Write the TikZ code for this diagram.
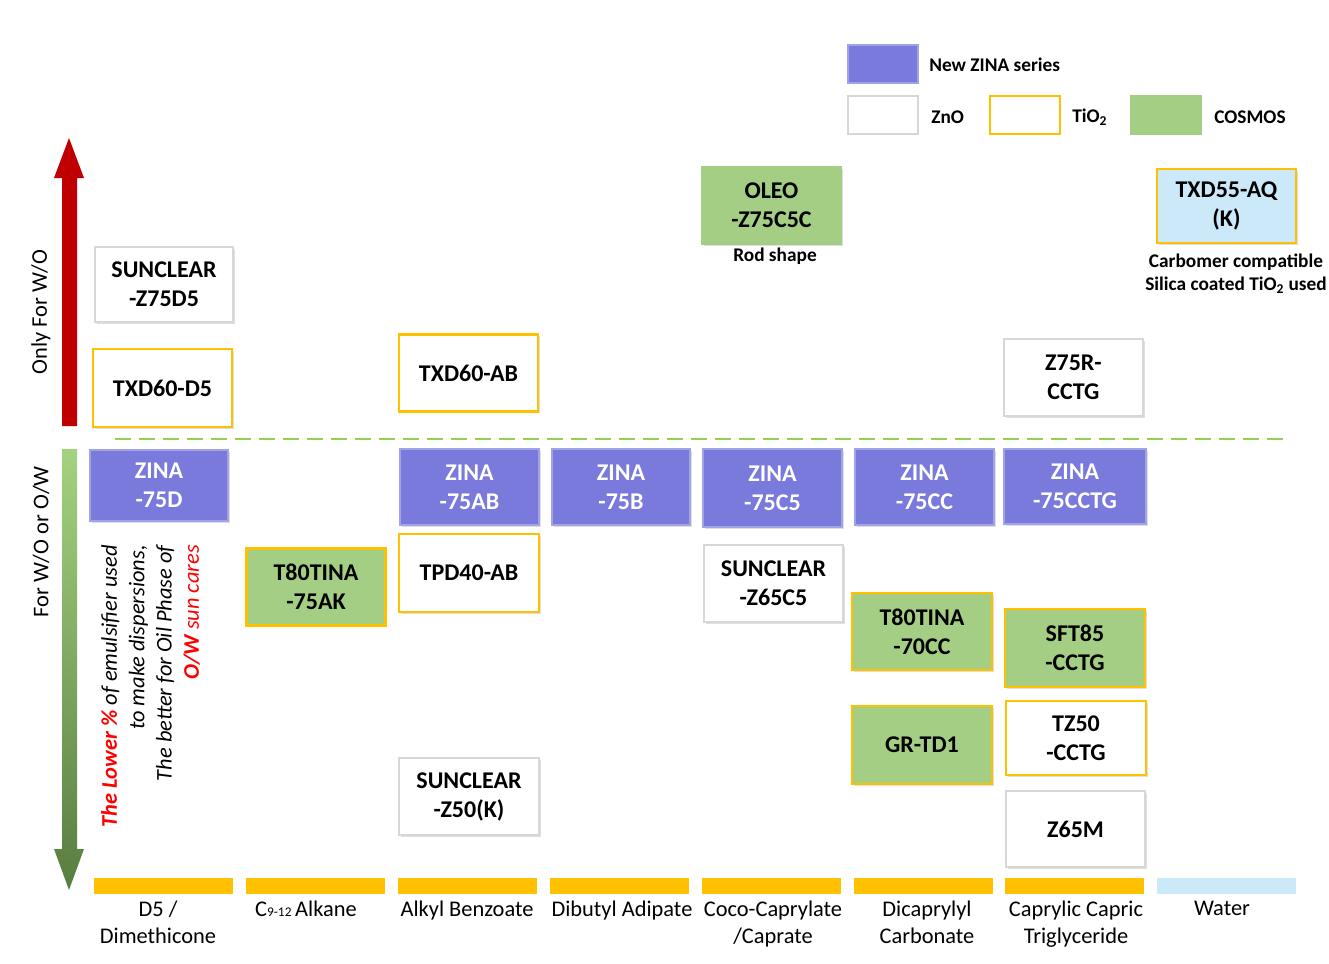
\documentclass[tikz,border=0pt]{standalone}
\usepackage{fontspec}
\setmainfont{Carlito}
\usetikzlibrary{shadows}
\definecolor{zpurple}{RGB}{122,122,220}
\definecolor{cgreen}{RGB}{163,206,131}
\definecolor{orng}{RGB}{255,192,0}
\definecolor{wblue}{RGB}{204,233,250}
\definecolor{greyb}{RGB}{215,215,215}
\definecolor{arred}{RGB}{192,0,0}
\definecolor{gtop}{RGB}{163,210,128}
\definecolor{gbot}{RGB}{88,125,64}
\definecolor{dgreen}{RGB}{146,208,80}
\newcommand\bxfont{\fontsize{18}{21.75}\selectfont\bfseries}
\newcommand\lblfont{\fontsize{16.8}{20.25}\selectfont}
\newcommand\lgfont{\fontsize{14.5}{17}\selectfont\bfseries}
\begin{document}
\begin{tikzpicture}[x=0.75pt,y=-0.75pt,
  sz/.style 2 args={minimum width={#1*0.75pt}, minimum height={#2*0.75pt}},
  bx/.style={draw=greyb, line width=0.8pt, fill=white, sz={139}{77}, font=\bxfont,
     align=center, inner sep=0pt,
     drop shadow={opacity=0.25, shadow xshift=1.2pt, shadow yshift=-1.2pt}},
  zno/.style={bx},
  tio/.style={bx, draw=orng, line width=1.6pt},
  zina/.style={bx, fill=zpurple, draw=zpurple!70!white, text=white},
  cos/.style={bx, fill=cgreen, draw=cgreen},
  costio/.style={bx, fill=cgreen, draw=orng, line width=1.6pt},
  aqua/.style={bx, fill=wblue, draw=orng, line width=1.6pt},
  leg/.style={draw=greyb, line width=0.8pt, fill=white, sz={70}{38}, inner sep=0pt},
  legtxt/.style={anchor=west, font=\lgfont, inner sep=0pt},
  lbl/.style={anchor=north, font=\lblfont, align=center, inner sep=0pt},
  note/.style={font=\lgfont, inner sep=0pt, align=center},
  side/.style={rotate=90, font=\lblfont, inner sep=0pt}
]
\useasboundingbox[fill=white] (0,0) rectangle (1329,964);

% legend
\node[leg, fill=zpurple, draw=zpurple!70!white] (lz) at (883,64) {};
\node[legtxt] (lzt) at (929,65) {New ZINA series};
\node[leg] (lw) at (883,115) {};
\node[legtxt] (lwt) at (931,117) {ZnO};
\node[leg, draw=orng, line width=1.6pt] (lt) at (1025,115) {};
\node[legtxt] (ltt) at (1072,117) {TiO\textsubscript{2}};
\node[leg, fill=cgreen, draw=cgreen] (lc) at (1166,115) {};
\node[legtxt] (lct) at (1214,117) {COSMOS};

% arrows
\fill[arred] (62,426) -- (62,178) -- (54,178) -- (69,138) -- (84,178) -- (77,178) -- (77,426) -- cycle;
\shade[top color=gtop, bottom color=gbot] (62,449) -- (62,849) -- (54,849) -- (69,890) -- (84,849) -- (77,849) -- (77,449) -- cycle;
\node[side] (onlywo) at (41,312) {Only For W/O};
\node[side] (wooow) at (41,542) {For W/O or O/W};

% note
\node[rotate=90, anchor=north east, align=right, inner sep=0pt,
      font=\fontsize{16.8}{20.5}\selectfont\itshape] (note) at (101,545)
 {{\color{red}\bfseries The Lower \%} of emulsifier used\\
  to make dispersions,\\
  The better for Oil Phase of\\
  {\color{red}\bfseries O/W} {\color{red}sun cares}};

% dashed divider
\coordinate (dl) at (115,439);
\coordinate (dr) at (1290,439);
\draw[dgreen, line width=1.5pt, dash pattern=on 12pt off 6pt] (dl) -- (dr);

% column 1
\node[zno, sz={138}{75}] (sz75d5) at (164,284.5) {SUNCLEAR\\-Z75D5};
\node[tio, sz={139}{78}] (txd60d5) at (162.5,388) {TXD60-D5};
\node[zina, sz={138}{71}] (z75d) at (159,485.5) {ZINA\\-75D};
% column 2
\node[costio] (t80ak) at (316,587) {T80TINA\\-75AK};
% column 3
\node[tio] (txd60ab) at (468.5,373) {TXD60-AB};
\node[zina, sz={139}{76}] (z75ab) at (469.5,487) {ZINA\\-75AB};
\node[tio, sz={140}{78}] (tpd40ab) at (469,573) {TPD40-AB};
\node[zno, sz={140}{77}] (sz50k) at (469,796.5) {SUNCLEAR\\-Z50(K)};
% column 4
\node[zina, sz={138}{76}] (z75b) at (621,487) {ZINA\\-75B};
% column 5
\node[cos] (oleo) at (771.5,205.5) {OLEO\\-Z75C5C};
\node[note] (rod) at (775,256) {Rod shape};
\node[zina, sz={139}{78}] (z75c5) at (772.5,488) {ZINA\\-75C5};
\node[zno] (sz65c5) at (773.5,583.5) {SUNCLEAR\\-Z65C5};
% column 6
\node[zina, sz={139}{76}] (z75cc) at (924.5,487) {ZINA\\-75CC};
\node[costio, sz={140}{77}] (t80cc) at (922,631.5) {T80TINA\\-70CC};
\node[costio, sz={140}{78}] (grtd1) at (922,745) {GR-TD1};
% column 7
\node[zno] (z75r) at (1073.5,377.5) {Z75R-\\CCTG};
\node[zina, sz={142}{75}] (z75cctg) at (1075,486.5) {ZINA\\-75CCTG};
\node[costio, sz={140}{78}] (sft85) at (1075,648) {SFT85\\-CCTG};
\node[tio, sz={140}{74}] (tz50) at (1076,738) {TZ50\\-CCTG};
\node[zno, sz={139}{76}] (z65m) at (1075.5,829) {Z65M};
% column 8
\node[aqua, sz={139}{74}] (txd55) at (1226.5,206) {TXD55-AQ\\(K)};
\node[note, anchor=north] (carb) at (1236,254) {Carbomer compatible\\Silica coated TiO\textsubscript{2} used};

% bars
\foreach \x in {94,246,398,550,702,854,1005}{
  \fill[orng] (\x,878) rectangle ++(139,16);
}
\fill[wblue] (1157,878) rectangle ++(139,16);

% labels
\node[lbl] (l1) at (158,901) {D5 /\\Dimethicone};
\node[lbl] (l2) at (306,901) {C{\fontsize{10}{10}\selectfont 9-12}\,Alkane};
\node[lbl] (l3) at (467,901) {Alkyl Benzoate};
\node[lbl] (l4) at (622,901) {Dibutyl Adipate};
\node[lbl] (l5) at (773,901) {Coco-Caprylate\\/Caprate};
\node[lbl] (l6) at (927,901) {Dicaprylyl\\Carbonate};
\node[lbl] (l7) at (1076,901) {Caprylic Capric\\Triglyceride};
\node[lbl] (l8) at (1222,901) {Water};
\end{tikzpicture}
\end{document}
